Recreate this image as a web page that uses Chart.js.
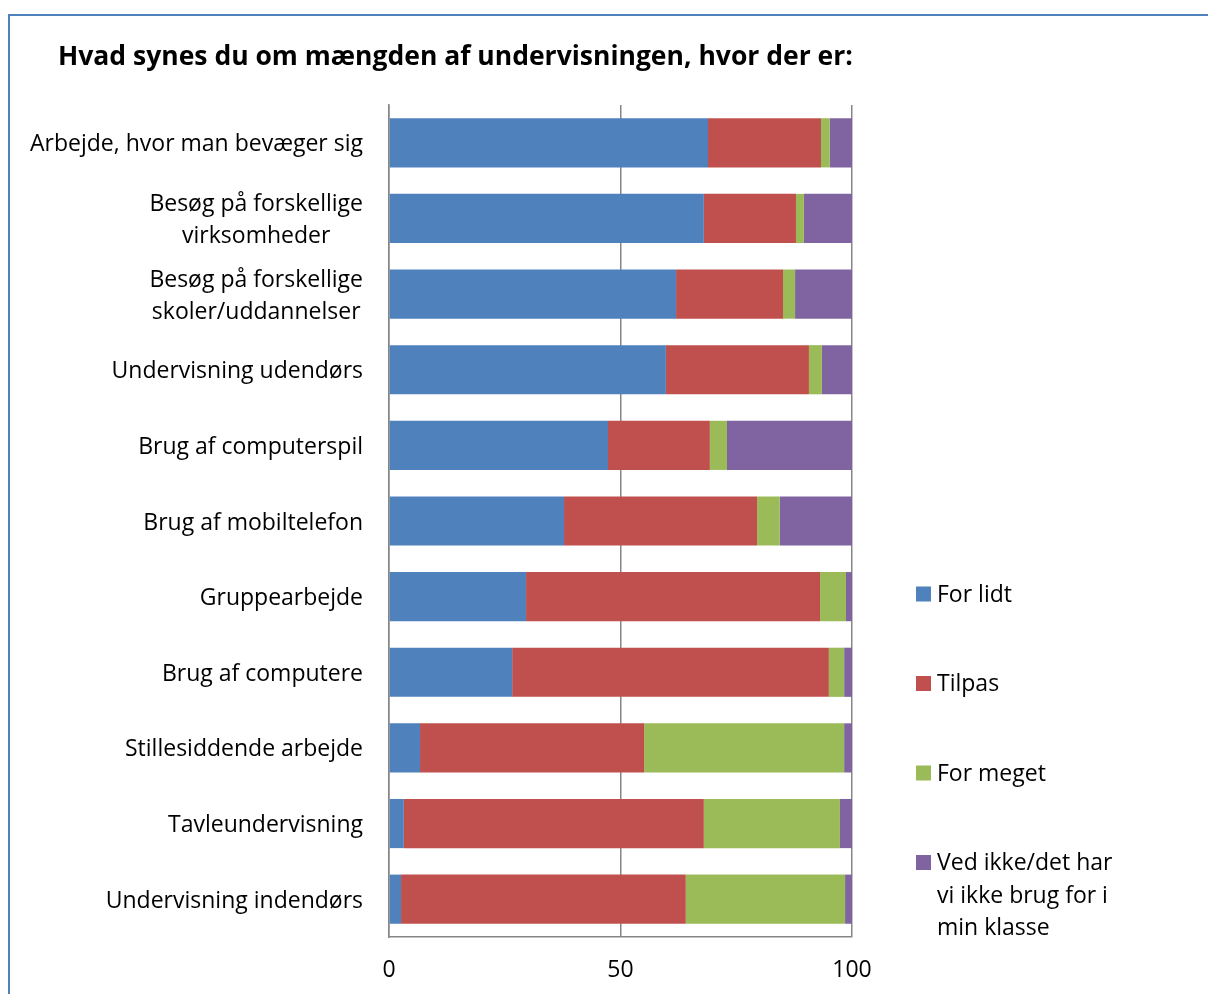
<!DOCTYPE html>
<html lang="da">
<head>
    <meta charset="UTF-8">
    <title>Hvad synes du om mængden af undervisningen</title>
    <script src="https://cdn.jsdelivr.net/npm/chart.js@4.4.1/dist/chart.umd.min.js"></script>
    <style>
        html, body { margin: 0; padding: 0; background: #fff; overflow: hidden; }
        .frame { position: absolute; left: 8px; top: 14px; width: 1300px; height: 1100px; border: 2px solid #4f81bd; }
        .wrap { position: absolute; left: 0; top: 0; width: 1208px; height: 994px; }
    </style>
</head>
<body>
    <div class="frame"></div>
    <div class="wrap"><canvas id="myBarChart"></canvas></div>

    <script>
        var title = 'Hvad synes du om mængden af undervisningen, hvor der er:';

        var categories = [
            ['Arbejde, hvor man bevæger sig'],
            ['Besøg på forskellige', 'virksomheder'],
            ['Besøg på forskellige', 'skoler/uddannelser'],
            ['Undervisning udendørs'],
            ['Brug af computerspil'],
            ['Brug af mobiltelefon'],
            ['Gruppearbejde'],
            ['Brug af computere'],
            ['Stillesiddende arbejde'],
            ['Tavleundervisning'],
            ['Undervisning indendørs']
        ];

        var seriesNames = ['For lidt', 'Tilpas', 'For meget', 'Ved ikke/det har vi ikke brug for i min klasse'];

        // procent pr. kategori
        var forLidt  = [68.9, 68.0, 62.0, 59.8, 47.3, 37.8, 29.6, 26.6, 6.7, 3.2, 2.6];
        var tilpas   = [24.4, 19.9, 23.1, 30.9, 22.0, 41.7, 63.5, 68.4, 48.4, 64.8, 61.5];
        var forMeget = [1.9, 1.7, 2.6, 2.8, 3.7, 4.9, 5.6, 3.3, 43.2, 29.4, 34.4];
        var vedIkke  = [4.8, 10.4, 12.3, 6.5, 27.0, 15.6, 1.3, 1.7, 1.7, 2.6, 1.5];

        var xTicks = [0, 50, 100];

        var colors = ['#4f81bd', '#c0504d', '#9bbb59', '#8064a2'];
        var fontName = '"Open Sans", Lato, sans-serif';

        // titel, kategorietiketter og legende tegnes selv
        var textPlugin = {
            id: 'textPlugin',
            afterDraw: function (chart) {
                var ctx = chart.ctx;
                ctx.save();
                ctx.fillStyle = '#000';

                ctx.font = 'bold 26.5px ' + fontName;
                ctx.textAlign = 'left';
                ctx.textBaseline = 'middle';
                ctx.fillText(title, 58, 57);

                var yScale = chart.scales.y;
                ctx.font = '23px ' + fontName;
                ctx.textAlign = 'center';
                categories.forEach(function (lines, i) {
                    var w = 0;
                    lines.forEach(function (l) { w = Math.max(w, ctx.measureText(l).width); });
                    var cx = chart.chartArea.left - 26 - w / 2;
                    var cy = yScale.getPixelForValue(i) + 2;
                    lines.forEach(function (l, k) {
                        ctx.fillText(l, cx, cy + (k - (lines.length - 1) / 2) * 32);
                    });
                });

                // legende
                ctx.textAlign = 'left';
                chart.data.datasets.forEach(function (ds, i) {
                    var y = 594 + i * 89.5;
                    ctx.fillStyle = ds.backgroundColor;
                    ctx.fillRect(916, y - 7.5, 15, 15);
                    ctx.fillStyle = '#000';
                    var words = ds.label.split(' ');
                    var lines = [];
                    var cur = '';
                    words.forEach(function (wd) {
                        var test = cur ? cur + ' ' + wd : wd;
                        if (cur && ctx.measureText(test).width > 186) {
                            lines.push(cur);
                            cur = wd;
                        } else {
                            cur = test;
                        }
                    });
                    lines.push(cur);
                    lines.forEach(function (l, k) {
                        ctx.fillText(l, 937, y + 1 + k * 32.5);
                    });
                });
                ctx.restore();
            }
        };

        var series = [forLidt, tilpas, forMeget, vedIkke];

        var ctx = document.querySelector('#myBarChart');
        new Chart(ctx, {
            type: 'bar',
            data: {
                labels: categories,
                datasets: series.map(function (values, i) {
                    return {
                        label: seriesNames[i],
                        data: values,
                        backgroundColor: colors[i],
                        borderWidth: 0,
                        barPercentage: 0.65,
                        categoryPercentage: 1
                    };
                })
            },
            options: {
                indexAxis: 'y',
                responsive: true,
                maintainAspectRatio: false,
                animation: false,
                layout: { padding: { top: 105, left: 0, right: 356, bottom: 0 } },
                plugins: {
                    legend: { display: false },
                    title: { display: false },
                    tooltip: { enabled: false }
                },
                scales: {
                    x: {
                        stacked: true,
                        min: 0,
                        max: 100,
                        afterBuildTicks: function (scale) {
                            scale.ticks = xTicks.map(function (v) { return { value: v }; });
                        },
                        afterFit: function (scale) { scale.height = 57; },
                        grid: { color: '#868686', lineWidth: 1.5, drawTicks: false },
                        border: { color: '#868686', width: 1.5 },
                        ticks: { color: '#000', padding: 20, font: { family: fontName, size: 23 } }
                    },
                    y: {
                        stacked: true,
                        afterFit: function (scale) { scale.width = 389; },
                        grid: { display: false },
                        border: { color: '#868686', width: 1.5 },
                        ticks: { display: false }
                    }
                }
            },
            plugins: [textPlugin]
        });
    </script>
</body>
</html>
